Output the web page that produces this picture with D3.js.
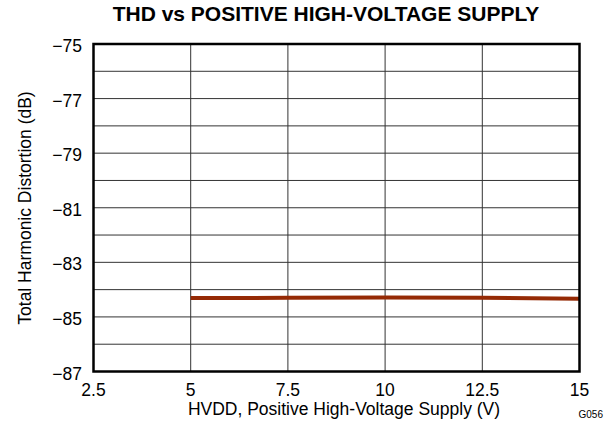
<!DOCTYPE html>
<html>
<head>
<meta charset="utf-8">
<script src="https://cdn.jsdelivr.net/npm/d3@7/dist/d3.min.js"></script>
<style>
  body { margin: 0; background: #fff; }
  svg { display: block; font-family: "Liberation Sans", Arial, sans-serif; }
</style>
</head>
<body>
<svg id="chart" width="610" height="428"></svg>
<script>
// HVDD supply voltage (V) and measured THD (dB)
const supplyV = [5, 7.5, 10, 12.5, 15];
const thdDb = [-84.31, -84.30, -84.29, -84.30, -84.33];
const xTicks = [2.5, 5, 7.5, 10, 12.5, 15];
const yTicks = [-75, -77, -79, -81, -83, -85, -87];
const yGrid = d3.range(-87, -74, 1);

const svg = d3.select("#chart");
const m = { left: 93.5, right: 579.5, top: 44, bottom: 371.5 };

const x = d3.scaleLinear().domain([2.5, 15]).range([m.left, m.right]);
const y = d3.scaleLinear().domain([-87, -75]).range([m.bottom, m.top]);

const fmt = d => String(d).replace("-", "\u2212");

// grid
svg.append("g").selectAll("line").data(yGrid).join("line")
  .attr("x1", m.left).attr("x2", m.right)
  .attr("y1", d => y(d)).attr("y2", d => y(d))
  .attr("stroke", "#333").attr("stroke-width", 1);
svg.append("g").selectAll("line").data(xTicks).join("line")
  .attr("y1", m.top).attr("y2", m.bottom)
  .attr("x1", d => x(d)).attr("x2", d => x(d))
  .attr("stroke", "#333").attr("stroke-width", 1);

// data line
svg.append("path")
  .datum(supplyV.map((v, i) => [v, thdDb[i]]))
  .attr("fill", "none")
  .attr("stroke", "#952a05")
  .attr("stroke-width", 4)
  .attr("d", d3.line().x(d => x(d[0])).y(d => y(d[1])));

// frame
svg.append("rect")
  .attr("x", m.left).attr("y", m.top)
  .attr("width", m.right - m.left).attr("height", m.bottom - m.top)
  .attr("fill", "none").attr("stroke", "#000").attr("stroke-width", 2.5);

// y tick labels
svg.append("g").selectAll("text").data(yTicks).join("text")
  .attr("x", 82).attr("y", d => y(d) + 8)
  .attr("text-anchor", "end")
  .attr("font-size", 17.5)
  .text(fmt);

// x tick labels
svg.append("g").selectAll("text").data(xTicks).join("text")
  .attr("x", d => x(d)).attr("y", 396)
  .attr("text-anchor", "middle")
  .attr("font-size", 17.5)
  .text(d => String(d));

// titles
svg.append("text")
  .attr("x", 326).attr("y", 21)
  .attr("text-anchor", "middle")
  .attr("font-size", 21).attr("font-weight", "bold")
  .text("THD vs POSITIVE HIGH-VOLTAGE SUPPLY");

svg.append("text")
  .attr("x", 344).attr("y", 415)
  .attr("text-anchor", "middle")
  .attr("font-size", 17.5)
  .text("HVDD, Positive High-Voltage Supply (V)");

svg.append("text")
  .attr("transform", `translate(31,208) rotate(-90)`)
  .attr("text-anchor", "middle")
  .attr("font-size", 17.5)
  .text("Total Harmonic Distortion (dB)");

svg.append("text")
  .attr("x", 603).attr("y", 417.5)
  .attr("text-anchor", "end")
  .attr("font-size", 10)
  .text("G056");
</script>
</body>
</html>
